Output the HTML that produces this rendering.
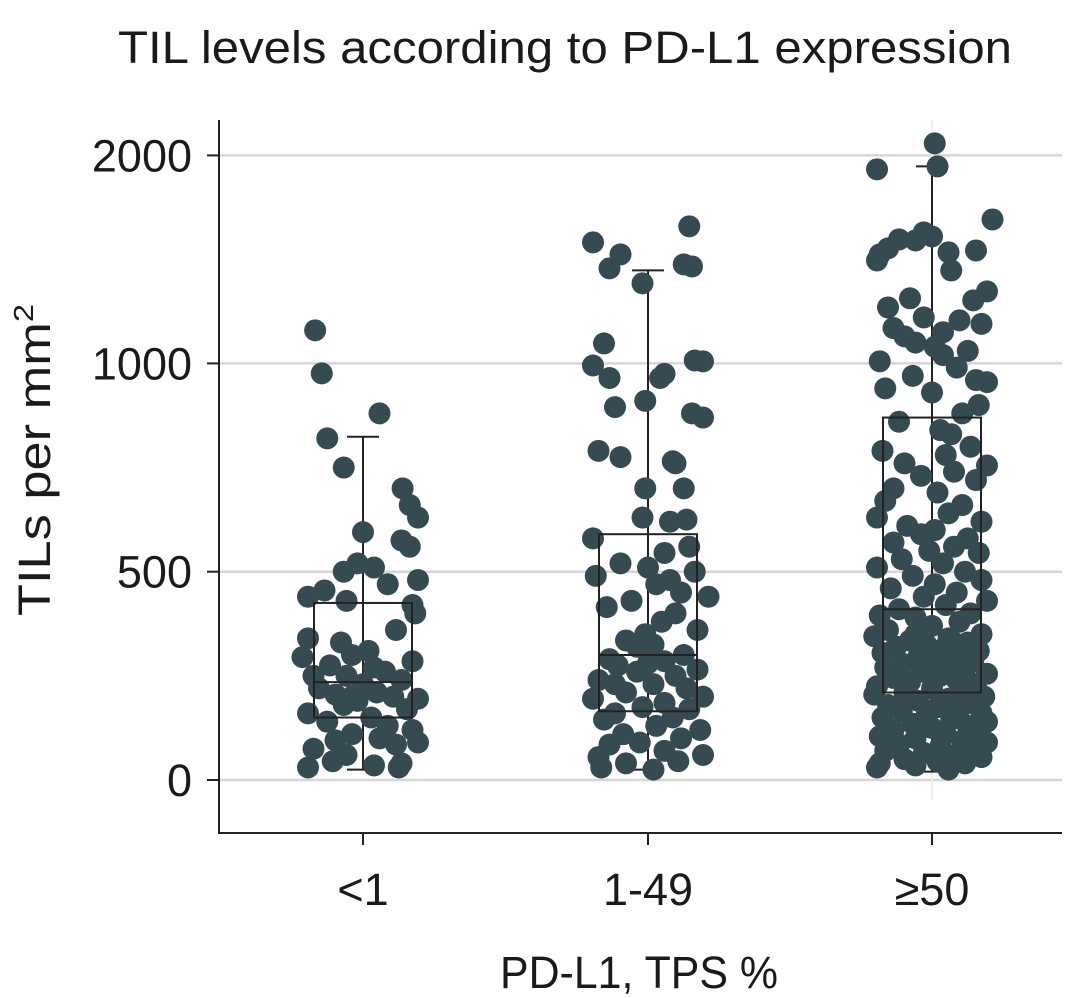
<!DOCTYPE html>
<html><head><meta charset="utf-8"><style>
body{margin:0;background:#fff}
svg{display:block;font-family:"Liberation Sans","DejaVu Sans",sans-serif}
</style></head><body>
<svg id="chart" width="1080" height="998" viewBox="0 0 1080 998">
<text x="118" y="63" font-size="45" textLength="894" lengthAdjust="spacingAndGlyphs" fill="#1a1a1a">TIL levels according to PD-L1 expression</text>
<g id="grid"></g>
<g id="whiskers"></g>
<g id="dots"></g>
<g id="boxes"></g>
<g id="axes"></g>
<text transform="translate(50,616) rotate(-90)" font-size="45" textLength="312" lengthAdjust="spacingAndGlyphs" fill="#1a1a1a">TILs per mm<tspan font-size="28" dy="-17">2</tspan></text>
<text x="500" y="988" font-size="45" textLength="278" lengthAdjust="spacingAndGlyphs" fill="#1a1a1a">PD-L1, TPS %</text>
</svg>
<script>
const categories = ["<1", "1-49", "≥50"];
const yTicks = [0, 500, 1000, 2000];
const boxStats = [
  {min:25, q1:150, med:235, q3:425, max:824},
  {min:25, q1:165, med:300, q3:590, max:1447},
  {min:20, q1:210, med:410, q3:870, max:1947}
];
const g1Values = [1159,976,880,820,750,700,660,630,595,575,560,520,510,500,480,470,440,455,430,420,400,360,340,330,310,300,295,285,275,260,250,240,230,220,210,205,200,195,190,180,170,160,150,140,130,120,110,100,95,90,85,75,60,45,40,35,30,30,250,200,270];
const g1Jitter = [-0.87,-0.75,0.3,-0.65,-0.35,0.72,0.85,1.0,0.0,0.7,0.85,-0.1,0.2,-0.35,1.0,0.45,-1.0,-0.7,-0.3,0.9,0.95,0.6,-1.0,-0.4,0.1,-0.2,-1.1,0.9,-0.6,0.4,-0.3,0.7,0.0,-0.8,0.25,-0.5,0.55,1.0,-0.1,-0.35,0.8,-1.0,0.15,-0.65,0.45,0.9,-0.2,0.3,-0.5,1.0,0.6,-0.9,-0.3,-0.55,0.7,0.2,-1.0,0.65,-0.9,-0.2,0.2];
const g2Values = [1659,1582,1524,1457,1476,1466,1385,1096,1014,1010,995,975,965,965,910,895,880,870,790,775,765,760,700,700,630,620,625,580,560,545,520,510,500,490,480,470,450,440,430,415,400,380,360,350,335,325,320,300,290,285,275,265,260,250,240,230,220,210,200,195,185,175,170,160,150,145,130,120,110,100,90,85,70,60,55,45,40,30,25,280,230];
const g2Jitter = [0.75,-1.0,-0.5,-0.7,0.65,0.8,-0.1,-0.8,0.85,1.0,-1.0,0.3,-0.7,0.22,-0.05,-0.6,0.8,1.0,-0.9,-0.5,0.45,0.5,-0.05,0.65,-0.1,0.4,0.7,-1.0,0.75,0.3,-0.5,0.0,0.85,-0.95,0.4,0.15,0.6,1.1,-0.3,-0.75,0.5,0.25,0.9,-0.05,-0.4,0.1,-0.2,0.65,-0.7,0.3,-0.55,0.9,-0.2,0.5,-0.9,0.1,0.7,-0.4,1.0,-1.0,0.3,-0.1,0.75,-0.6,0.45,-0.8,0.15,0.95,-0.45,0.6,-0.15,-0.7,0.3,1.0,-0.9,0.55,-0.4,-0.85,0.1,0.0,-0.6];
const g3Values = [2058,1933,1947,1692,1630,1610,1596,1591,1553,1534,1543,1524,1495,1447,1346,1313,1303,1269,1221,1207,1190,1170,1150,1130,1100,1080,1060,1040,1010,990,970,960,955,940,930,900,880,860,840,830,800,790,780,760,755,740,730,720,700,690,670,660,640,630,620,610,600,590,580,570,560,550,545,530,520,510,500,490,480,470,460,450,440,430,420,410,400,395,390,380,370,360,350,345,340,335,330,325,320,315,310,305,300,295,290,285,280,275,270,265,260,255,250,245,240,235,230,225,220,215,210,205,200,195,190,185,180,175,170,165,160,155,150,145,140,135,130,125,120,115,110,105,100,95,90,85,80,75,70,65,60,55,50,45,40,40,35,30,25,350,300,250,330];
const g3Jitter = [0.05,-1.0,0.1,1.1,-0.15,0.0,-0.6,-0.3,-0.8,0.3,0.8,-0.95,-1.0,0.35,1.0,-0.4,0.75,-0.8,-0.15,0.5,0.9,-0.7,0.2,-0.5,-0.3,0.05,0.65,0.2,-0.95,0.45,-0.35,0.8,1.0,-0.85,0.0,0.85,0.55,-0.6,0.15,0.35,0.7,-0.9,0.25,-0.5,1.0,0.4,-0.2,0.8,-0.7,0.1,-0.85,0.55,0.3,-1.0,0.9,-0.45,0.05,-0.2,0.65,-0.7,0.4,-0.05,0.85,-0.55,0.2,-1.0,0.6,-0.35,0.9,0.05,-0.75,0.45,-0.15,1.0,0.25,-0.6,0.7,-0.95,-0.3,0.5,0.0,-0.8,0.9,-1.05,0.3,-0.4,0.65,-0.1,-0.65,0.2,0.85,-0.9,0.45,-0.25,0.05,0.75,-0.55,0.3,-0.85,0.6,-0.2,1.0,0.15,-0.7,0.45,-0.4,0.8,-1.0,0.0,0.55,-0.5,-1.05,0.95,0.3,-0.25,0.7,-0.8,0.1,0.5,-0.55,0.9,-0.1,-0.9,0.35,1.0,-0.35,0.65,0.0,-0.7,0.85,0.25,-0.95,-0.3,0.55,1.0,-0.6,0.15,0.75,-0.85,-0.15,0.4,0.9,-0.5,0.1,-0.95,0.6,-0.3,-1.0,0.3,-0.3,0.15,-0.6,0.4];
const groups = [[g1Values,g1Jitter],[g2Values,g2Jitter],[g3Values,g3Jitter]];

const NS = "http://www.w3.org/2000/svg";
const plotL = 219, plotR = 1062, plotB = 833, plotT = 120;
const y0 = 780, pxLow = 0.4166, pxHigh = 0.208;
function yScale(v){ return v <= 1000 ? y0 - v*pxLow : y0 - 1000*pxLow - (v-1000)*pxHigh; }
const catX = [363, 648, 932];
function xScale(i){ return catX[i]; }
const jitterW = 55, boxHalf = 49, r = 11;
function mk(tag, attrs, parent){ const e = document.createElementNS(NS, tag); for (const k in attrs) e.setAttribute(k, attrs[k]); parent.appendChild(e); return e; }

const grid = document.getElementById('grid');
yTicks.forEach(t => {
  const l = mk('line', {x1:plotL, x2:plotR, y1:yScale(t), y2:yScale(t), stroke:'#d6d6d6', 'stroke-width':2.5}, grid);
  
  
});
const vg = mk('line', {x1:xScale(2), x2:xScale(2), y1:plotT, y2:800, stroke:'#eeeeee', 'stroke-width':2}, grid);



const wh = document.getElementById('whiskers');
boxStats.forEach((b, i) => {
  const l = mk('line', {x1:xScale(i), x2:xScale(i), y1:yScale(b.min), y2:yScale(b.max), stroke:'#222', 'stroke-width':2}, wh);
  
  
  [b.min, b.max].forEach(v => {
    const c = mk('line', {x1:xScale(i)-16, x2:xScale(i)+16, y1:yScale(v), y2:yScale(v), stroke:'#222', 'stroke-width':2}, wh);
    
    
  });
});

const dots = document.getElementById('dots');
groups.forEach((g, i) => {
  g[0].forEach((v, k) => {
    const c = mk('circle', {cx:xScale(i) + g[1][k]*jitterW, cy:yScale(v), r:r, fill:'#364b51'}, dots);
    
    
  });
});

const boxes = document.getElementById('boxes');
boxStats.forEach((b, i) => {
  const rc = mk('rect', {x:xScale(i)-boxHalf, y:yScale(b.q3), width:boxHalf*2, height:yScale(b.q1)-yScale(b.q3), fill:'none', stroke:'#222', 'stroke-width':2}, boxes);
  
  
  const m = mk('line', {x1:xScale(i)-boxHalf, x2:xScale(i)+boxHalf, y1:yScale(b.med), y2:yScale(b.med), stroke:'#222', 'stroke-width':2}, boxes);
  
  
});

const axes = document.getElementById('axes');
const ya = mk('line', {x1:plotL, x2:plotL, y1:plotT, y2:plotB+1, stroke:'#222', 'stroke-width':2}, axes);


const xa = mk('line', {x1:plotL-1, x2:plotR, y1:plotB, y2:plotB, stroke:'#222', 'stroke-width':2}, axes);


yTicks.forEach(t => {
  const tk = mk('line', {x1:plotL-12, x2:plotL, y1:yScale(t), y2:yScale(t), stroke:'#222', 'stroke-width':2}, axes);
  
  
  const tx = mk('text', {x:192, y:yScale(t)+16, 'font-size':45, 'text-anchor':'end', fill:'#1a1a1a'}, axes);
  tx.textContent = String(t);
  
  
});
categories.forEach((c, i) => {
  const tk = mk('line', {x1:xScale(i), x2:xScale(i), y1:plotB, y2:plotB+12, stroke:'#222', 'stroke-width':2}, axes);
  
  
  const tx = mk('text', {x:xScale(i), y:905, 'font-size':45, 'text-anchor':'middle', fill:'#1a1a1a'}, axes);
  tx.textContent = c;
  
  
});
</script>
</body></html>
